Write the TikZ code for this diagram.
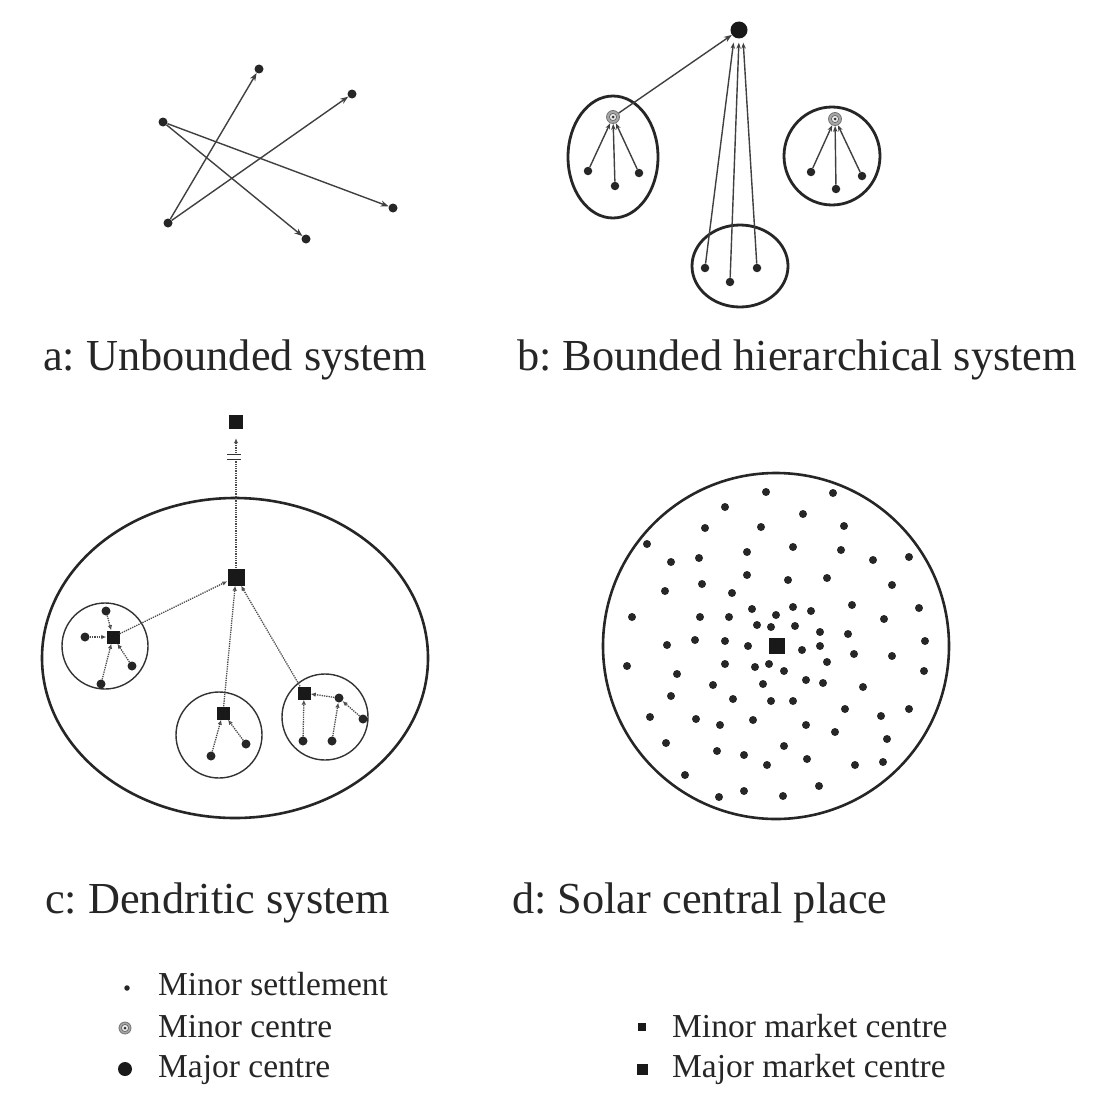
\documentclass[tikz,border=0pt]{standalone}
\usepackage{fontspec}
\setmainfont{Liberation Serif}
\usetikzlibrary{arrows.meta}
\usetikzlibrary{positioning}
\frenchspacing

\begin{document}
\begin{tikzpicture}[x=1pt,y=-1pt,
	settle/.style={circle,fill=black!85,inner sep=0pt,minimum size=9pt},
	majorc/.style={circle,fill=black!90,inner sep=0pt,minimum size=17pt},
	minorc/.style={circle,draw=black!55,fill=black!35,line width=0.8pt,inner sep=0pt,minimum size=13pt,
		path picture={\draw[black!60,fill=black!8,line width=0.7pt] (path picture bounding box.center) circle (3.6pt);
			\fill[black!80] (path picture bounding box.center) circle (1.5pt);}},
	mkt/.style={rectangle,fill=black!90,inner sep=0pt,minimum size=13pt},
	bigmkt/.style={rectangle,fill=black!90,inner sep=0pt,minimum size=17pt},
	flow/.style={draw=black!75,line width=1.4pt,-{Stealth[length=8pt,width=6pt]}},
	feeder/.style={draw=black!70,line width=1.3pt,densely dotted,-{Latex[open,length=5pt,width=4.5pt]}},
	bound/.style={draw=black!85,line width=2.8pt},
	ring/.style={draw=black!80,line width=1.4pt},
	title/.style={anchor=base west,inner sep=0pt,font=\fontsize{44.3}{50}\selectfont,text=black!85},
	legtext/.style={anchor=base west,inner sep=0pt,font=\fontsize{33.5}{40}\selectfont,text=black!85}]
	\fill[white] (0,0) rectangle (1093,1108);
	\useasboundingbox (0,0) rectangle (1093,1108);

	%% a: unbounded system
	\node[settle] (a1) at (259,69) {};
	\node[settle] (a2) at (352,94) {};
	\node[settle] (a3) at (163,122) {};
	\node[settle] (a4) at (168,223) {};
	\node[settle] (a5) at (393,208) {};
	\node[settle] (a6) at (306,239) {};
	\draw[flow] (a4)--(a1);
	\draw[flow] (a4)--(a2);
	\draw[flow] (a3)--(a5);
	\draw[flow] (a3)--(a6);
	\node[title] (ta) at (43,370) {a: Unbounded system};

	%% b: bounded hierarchical system
	\node[majorc] (bmaj) at (739,30) {};
	\draw[bound] (613,157) ellipse [x radius=45, y radius=61];
	\draw[bound] (832,156) ellipse [x radius=48, y radius=49];
	\draw[bound] (740,266) ellipse [x radius=48, y radius=41];
	\node[minorc] (bl) at (613,117) {};
	\node[minorc] (br) at (835,119) {};
	\node[settle,minimum size=8.5pt] (bl1) at (588,171) {};
	\node[settle,minimum size=8.5pt] (bl2) at (615,186) {};
	\node[settle,minimum size=8.5pt] (bl3) at (639,173) {};
	\node[settle,minimum size=8.5pt] (br1) at (811,172) {};
	\node[settle,minimum size=8.5pt] (br2) at (836,189) {};
	\node[settle,minimum size=8.5pt] (br3) at (862,176) {};
	\node[settle,minimum size=8.5pt] (bb1) at (705,268) {};
	\node[settle,minimum size=8.5pt] (bb2) at (730,282) {};
	\node[settle,minimum size=8.5pt] (bb3) at (757,268) {};
	\foreach \s in {bl,br}{
		\foreach \i in {1,2,3}
			\draw[flow,-{Stealth[length=6pt,width=4.5pt]}] (\s\i)--(\s);
	}
	\draw[flow] (bl)--(bmaj);
	\draw[flow,-{Stealth[length=6pt,width=4.5pt]},shorten >=4pt] (bb1)--([xshift=-5pt]bmaj.south);
	\draw[flow,-{Stealth[length=6pt,width=4.5pt]},shorten >=4pt] (bb2)--(bmaj.south);
	\draw[flow,-{Stealth[length=6pt,width=4.5pt]},shorten >=4pt] (bb3)--([xshift=4pt]bmaj.south);
	\node[title] (tb) at (517,370) {b: Bounded hierarchical system};

	%% c: dendritic system
	\draw[bound,line width=2.6pt] (235,658) ellipse [x radius=193, y radius=160];
	\draw[ring] (105,646) circle [radius=43];
	\draw[ring] (219,735) circle [radius=43];
	\draw[ring] (325,717) circle [radius=43];
	\node[mkt,minimum size=14pt] (ctop) at (236,422) {};
	\node[bigmkt] (cmid) at (236,577) {};
	\node[mkt] (cl) at (113,637) {};
	\node[mkt] (cm) at (223,713) {};
	\node[mkt] (cr) at (304,693) {};
	\node[settle] (cl1) at (106,611) {};
	\node[settle] (cl2) at (85,637) {};
	\node[settle] (cl3) at (132,666) {};
	\node[settle] (cl4) at (101,684) {};
	\node[settle] (cm1) at (211,756) {};
	\node[settle] (cm2) at (246,744) {};
	\node[settle] (cr1) at (339,698) {};
	\node[settle] (cr2) at (363,719) {};
	\node[settle] (cr3) at (303,741) {};
	\node[settle] (cr4) at (332,741) {};
	\foreach \u/\v in {cl/cmid,cm/cmid,cr/cmid,cl1/cl,cl2/cl,cl3/cl,cl4/cl,cm1/cm,cm2/cm,cr1/cr,cr2/cr1,cr3/cr,cr4/cr1}
		\draw[feeder] (\u)--(\v);
	\draw[feeder,shorten >=9pt] (cmid)--(ctop);
	% break in the long link
	\node[fill=white,inner sep=0pt,minimum width=13pt,minimum height=5pt] (brk) at (234,457) {};
	\draw[ring,line width=1.2pt] (brk.north west)--(brk.north east);
	\draw[ring,line width=1.2pt] (brk.south west)--(brk.south east);
	\node[title] (tc) at (45,913) {c: Dendritic system};

	%% d: solar central place
	\draw[bound,line width=2.6pt] (776,646) circle [radius=173];
	\node[bigmkt,minimum size=16pt] (dmaj) at (777,646) {};
	\foreach \x/\y [count=\k] in {766/492,833/493,725/507,803/514,705/528,761/527,844/526,647/544,
		793/547,841/550,747/552,671/562,699/558,873/560,909/557,747/575,788/580,827/578,702/584,
		892/585,665/591,732/593,852/605,919/608,632/617,700/617,729/617,752/609,793/607,811/611,
		776/615,884/619,757/625,771/627,795/626,820/632,848/634,667/645,695/640,725/641,748/646,
		802/650,820/646,925/641,854/654,892/656,627/666,725/664,755/667,769/664,784/671,827/662,
		924/671,677/674,713/685,763/684,806/680,823/683,863/687,671/696,733/699,771/701,793/701,
		845/709,909/709,650/717,696/719,720/725,753/720,806/725,881/716,835/732,887/739,666/743,
		717/751,744/755,784/746,767/765,807/759,855/765,883/762,685/775,719/797,744/791,783/796,819/786}
		\node[settle,minimum size=8pt] (d\k) at (\x,\y) {};
	\node[title] (td) at (512,913) {d: Solar central place};

	%% legend
	\node[settle,minimum size=5.5pt] (lg1) at (127,988) {};
	\node[minorc,minimum size=12pt] (lg2) at (125,1028) {};
	\node[majorc,minimum size=14pt] (lg3) at (125,1069) {};
	\node[mkt,minimum size=8pt] (lg4) at (642,1027) {};
	\node[mkt,minimum size=11pt] (lg5) at (642,1069) {};
	\node[legtext] (tx1) at (158,995) {Minor settlement};
	\node[legtext] (tx2) at (158,1037) {Minor centre};
	\node[legtext] (tx3) at (158,1077) {Major centre};
	\node[legtext] (tx4) at (672,1037) {Minor market centre};
	\node[legtext] (tx5) at (672,1077) {Major market centre};
\end{tikzpicture}
\end{document}
